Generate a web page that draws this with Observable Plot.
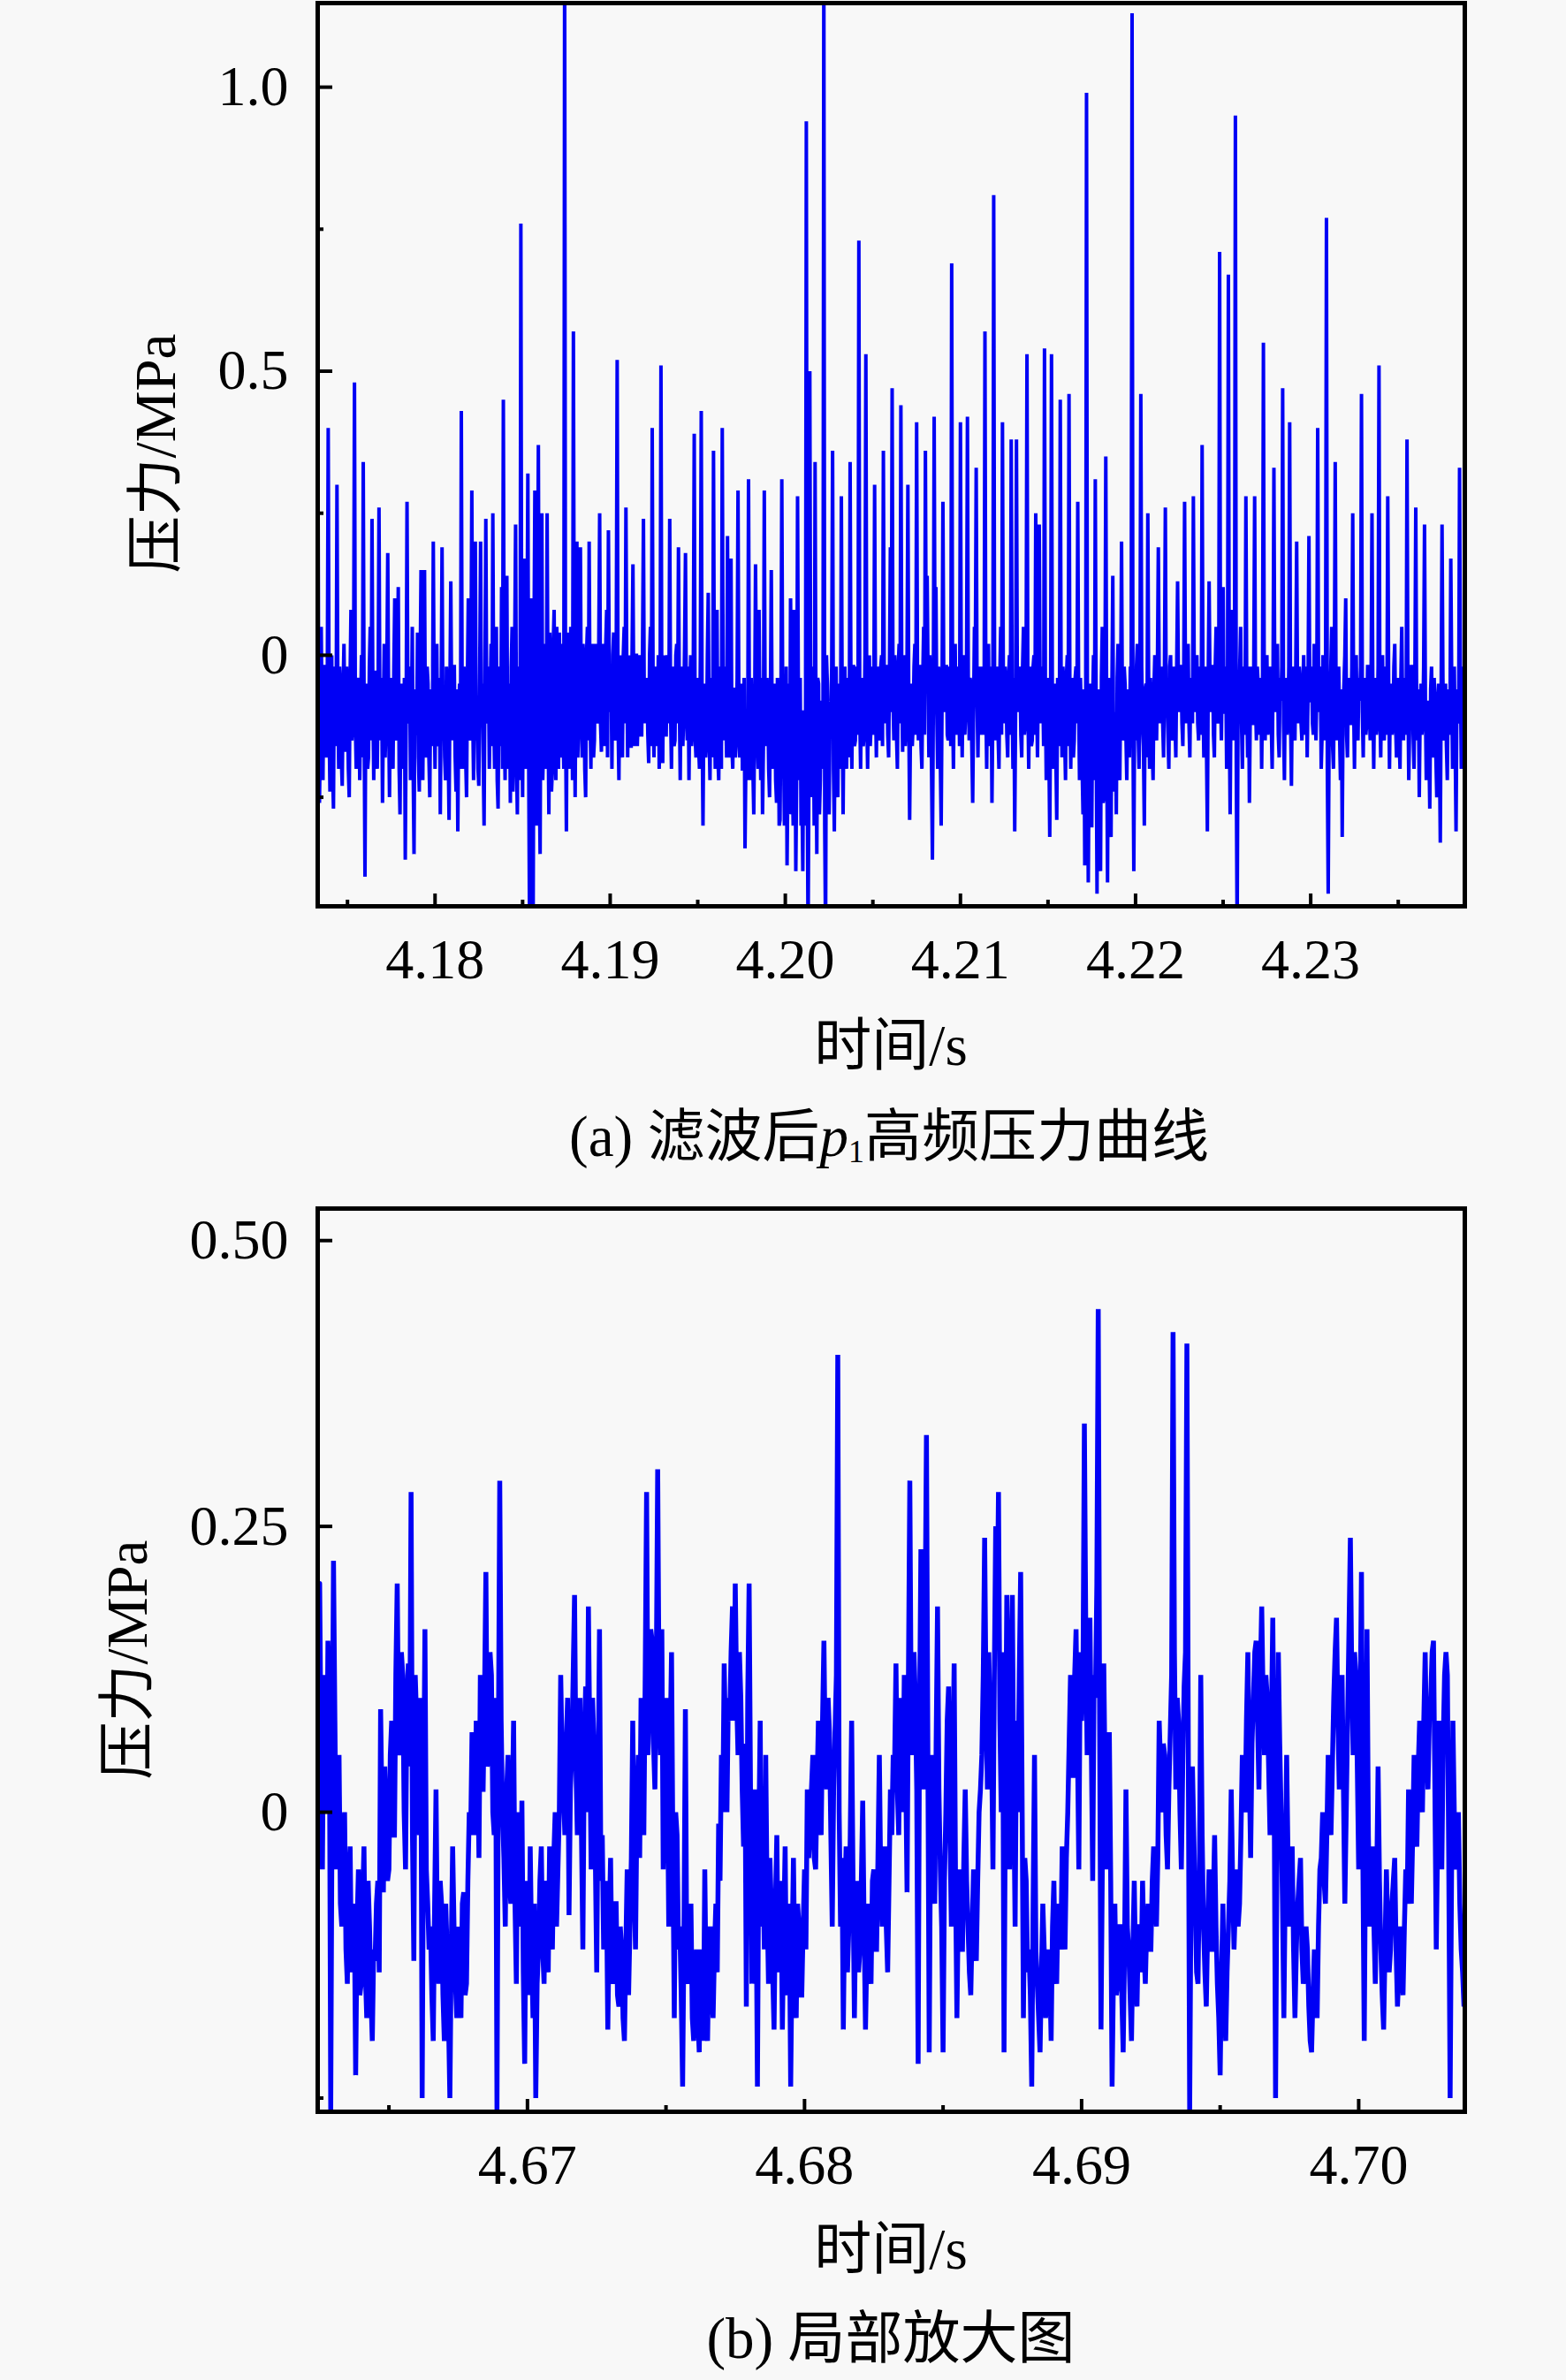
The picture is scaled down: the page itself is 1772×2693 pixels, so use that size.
<!DOCTYPE html>
<html>
<head>
<meta charset="utf-8">
<script src="https://cdn.jsdelivr.net/npm/d3@7"></script>
<script src="https://cdn.jsdelivr.net/npm/@observablehq/plot@0.6"></script>
<style>
  html, body { margin: 0; padding: 0; background: #f8f8f8; }
  #wrap { position: relative; width: 1772px; height: 2693px; font-family: "Liberation Serif", "Noto Sans CJK SC", serif; color: #000; }
  .lbl { position: absolute; white-space: nowrap; line-height: 1; font-size: 65px; transform: translate(-50%, -50%); }
  .ylbl { position: absolute; white-space: nowrap; line-height: 1; font-size: 65px; transform: translate(-50%, -50%) rotate(-90deg); }
  .pl { position: absolute; left: 0; }
</style>
</head>
<body>
<div id="wrap">
  <div id="pa" class="pl" style="top:0px"></div>
  <div id="pb" class="pl" style="top:1340px"></div>
  <div class="ylbl" style="left:176px; top:513px;">压力/MPa</div>
  <div class="lbl" style="left:1008px; top:1183px;">时间/s</div>
  <div class="lbl" style="left:1006px; top:1288px;">(a) 滤波后<i>p</i><sub style="font-size:0.55em; vertical-align:-0.2em;">1</sub>高频压力曲线</div>
  <div class="ylbl" style="left:144px; top:1878px;">压力/MPa</div>
  <div class="lbl" style="left:1008px; top:2545px;">时间/s</div>
  <div class="lbl" style="left:1008px; top:2646px;">(b) 局部放大图</div>
</div>
<script>
// ---------- Panel (a): filtered p1 high-frequency pressure; samples every 0.05 ms from 4.1733 s ----------
// pa*: samples at 4.1733 + i*0.1 ms ; ma*: samples half-way between them
const startA = 4.1733, stepA = 0.0001;
const pa1 = [0.55,-0.26,0.05,-0.22,-0.02,-0.18,0.40,-0.24,0.0,-0.27,-0.05,0.30,-0.2,-0.06,-0.23,0.02,-0.17,-0.09,-0.25,0.08,
 -0.12,0.48,-0.2,-0.05,-0.22,0.0,0.34,-0.39,-0.08,-0.18,0.05,0.24,-0.22,-0.03,-0.2,0.26,-0.15,-0.26,0.02,-0.12,
 0.18,-0.25,-0.08,-0.2,0.1,-0.15,0.12,-0.28,-0.05,-0.2,-0.36,0.27,-0.12,-0.22,0.05,-0.35,-0.1,0.04,-0.24,0.15,
 -0.22,0.15,-0.18,-0.05,-0.25,-0.1,0.2,-0.2,0.02,-0.14,-0.28,0.19,-0.08,-0.22,-0.05,-0.29,0.13,-0.15,-0.02,-0.24,
 -0.31,-0.05,0.43,-0.2,-0.08,-0.25,0.1,-0.15,0.29,-0.22,0.2,-0.1,-0.23,0.2,-0.05,-0.3,0.24,-0.12,-0.2,0.02];
const pa2 = [0.25,-0.2,0.05,-0.27,-0.02,0.12,0.45,-0.22,0.14,-0.08,-0.26,0.05,-0.15,0.23,-0.28,-0.02,0.76,-0.25,0.17,-0.1,
 0.32,-0.5,0.1,-0.48,0.29,-0.3,0.37,-0.35,0.25,-0.15,0.0,0.25,-0.28,-0.05,-0.2,0.08,-0.22,-0.05,0.04,-0.18,
 -0.1,1.25,-0.31,0.04,-0.2,-0.05,0.57,-0.25,0.2,-0.12,0.19,-0.18,-0.02,-0.25,0.05,0.2,-0.2,-0.08,-0.15,0.0,
 -0.1,0.25,-0.17,0.02,-0.12,0.08,0.22,-0.1,-0.2,0.04,-0.15,0.52,-0.22,-0.02,-0.18,0.05,0.26,-0.18,-0.08,-0.16,
 0.16,-0.16,0.0,-0.1,-0.05,-0.14,0.24,-0.08,-0.04,-0.19,0.05,0.4,-0.18,-0.03,-0.12,-0.2,0.51,-0.19,-0.06,-0.14];
const pa3 = [-0.04,0.24,-0.2,-0.05,-0.15,0.02,0.19,-0.22,-0.08,-0.1,0.18,-0.15,-0.22,0.0,-0.12,0.39,-0.18,-0.05,-0.2,0.43,
 -0.3,-0.05,-0.15,0.11,-0.22,-0.08,0.36,-0.2,0.08,-0.22,-0.02,0.4,-0.15,-0.1,0.21,-0.18,0.17,-0.2,-0.06,-0.15,
 0.29,-0.18,-0.05,-0.2,-0.34,-0.1,0.31,-0.22,-0.12,-0.28,0.16,-0.15,0.08,-0.22,-0.28,0.29,-0.16,-0.08,-0.25,0.15,
 -0.2,-0.05,-0.26,-0.1,-0.29,0.31,-0.15,-0.25,-0.37,-0.05,0.1,-0.2,0.08,-0.38,0.28,-0.22,-0.3,-0.38,-0.1,0.94,
 -0.5,0.5,-0.25,-0.1,0.34,-0.35,-0.05,-0.22,-0.1,1.25,-0.5,-0.05,-0.28,-0.1,0.36,-0.31,-0.02,-0.25,-0.12,0.28];
const pa4 = [-0.28,-0.02,-0.2,-0.08,0.34,-0.2,-0.02,-0.15,-0.08,0.73,-0.2,-0.05,-0.14,0.53,-0.2,0.0,-0.12,-0.05,0.3,-0.18,
 -0.05,-0.15,0.0,0.36,-0.12,-0.02,-0.18,0.19,0.47,-0.15,-0.05,-0.2,0.02,0.44,-0.17,-0.05,-0.12,0.3,-0.29,-0.05,
 -0.12,0.02,0.41,-0.15,-0.02,-0.2,0.05,0.36,0.14,-0.18,-0.05,-0.36,0.42,0.12,-0.2,-0.05,-0.3,0.27,-0.1,-0.02,
 -0.15,-0.05,0.69,-0.2,0.02,-0.12,-0.05,0.41,-0.18,0.0,-0.1,0.42,-0.15,-0.05,-0.26,0.05,0.33,-0.18,-0.02,-0.12,
 -0.05,0.57,-0.2,0.02,-0.12,-0.26,0.81,-0.15,-0.02,-0.2,0.05,0.41,-0.12,-0.05,-0.18,0.0,0.38,-0.2,-0.31,0.38];
const pa5 = [-0.1,-0.02,-0.18,0.05,-0.12,0.53,-0.2,-0.05,-0.15,0.0,0.25,-0.18,0.23,-0.12,-0.05,0.54,-0.22,-0.08,-0.32,0.53,
 -0.2,-0.05,-0.29,-0.1,0.45,-0.18,-0.05,-0.22,0.0,0.46,-0.2,-0.1,-0.15,-0.02,0.27,-0.22,-0.1,-0.28,-0.37,0.99,
 -0.4,-0.05,-0.3,0.0,0.31,-0.42,-0.1,-0.38,0.05,-0.25,0.35,-0.4,-0.08,-0.32,0.14,-0.2,-0.28,0.02,-0.22,0.2,
 -0.15,-0.05,-0.22,-0.1,-0.02,1.13,-0.38,-0.15,0.02,-0.2,0.46,-0.12,-0.3,-0.05,0.25,-0.2,-0.1,-0.22,0.0,-0.15,
 0.19,-0.12,-0.02,-0.18,0.26,-0.08,-0.2,0.0,-0.15,-0.05,-0.18,0.13,-0.1,-0.02,-0.16,0.27,-0.12,0.02,-0.18,-0.05];
const pa6 = [0.28,-0.1,0.0,-0.15,-0.05,0.37,-0.18,-0.05,-0.31,0.13,-0.1,-0.02,-0.18,0.05,-0.12,0.71,-0.15,0.12,-0.1,-0.2,
 0.67,-0.28,0.08,-0.15,0.95,-0.5,-0.1,0.05,-0.2,-0.05,0.28,-0.18,-0.26,-0.02,-0.12,0.28,-0.15,-0.05,-0.1,-0.2,
 0.55,-0.15,0.0,-0.12,-0.05,-0.2,0.33,-0.1,0.02,-0.18,-0.08,0.47,-0.22,-0.05,-0.12,0.41,-0.23,-0.02,-0.15,0.2,
 -0.12,-0.05,-0.15,0.0,-0.1,-0.18,0.21,-0.08,-0.12,0.02,-0.15,0.4,-0.1,-0.2,0.0,-0.15,0.77,-0.42,-0.1,0.05,
 -0.2,0.34,-0.15,-0.02,-0.22,-0.32,-0.05,0.1,-0.18,-0.05,-0.12,0.25,-0.2,0.0,-0.15,-0.08,0.46,-0.18,-0.05,-0.12];
const pa7 = [-0.02,-0.15,0.25,-0.2,-0.05,-0.12,0.51,-0.18,0.0,-0.15,-0.1,0.28,-0.2,-0.05,-0.12,0.02,-0.18,-0.08,-0.2,0.05,
 -0.15,-0.05,0.38,-0.22,-0.1,-0.02,-0.2,0.26,-0.15,-0.25,-0.05,-0.12,0.23,-0.22,-0.08,-0.27,-0.02,-0.18,-0.1,-0.25,
 -0.05,-0.33,0.23,-0.15,-0.05,-0.22,-0.1,0.17,-0.2,-0.02,-0.31,-0.1,0.33,-0.2,-0.05,-0.12];

const ma1 = [-0.05,-0.15,-0.12,-0.02,-0.14,-0.04,-0.12,-0.1,-0.2,-0.02,-0.16,-0.08,-0.02,-0.18,-0.06,-0.12,-0.02,-0.2,-0.04,-0.15,
 -0.02,-0.12,-0.16,-0.04,-0.1,-0.18,-0.1,-0.05,-0.2,-0.02,-0.15,-0.08,-0.03,-0.16,-0.06,-0.1,-0.04,-0.1,-0.18,-0.02,
 -0.1,-0.04,-0.18,-0.02,-0.12,-0.04,-0.2,-0.06,-0.16,-0.04,-0.12,-0.1,-0.02,-0.14,-0.2,-0.06,-0.14,-0.18,-0.02,-0.1,
 -0.04,-0.14,-0.02,-0.18,-0.06,-0.16,-0.08,-0.02,-0.16,-0.04,-0.08,-0.12,-0.18,-0.02,-0.16,-0.06,-0.1,-0.02,-0.18,-0.06,
 -0.1,-0.2,-0.12,-0.02,-0.18,-0.04,-0.12,-0.02,-0.1,-0.04,-0.15,-0.2,-0.04,-0.12,-0.18,-0.04,-0.1,-0.02,-0.08,-0.16];
const ma2 = [-0.1,-0.02,-0.22,-0.05,-0.16,-0.2,-0.1,0.0,-0.2,-0.05,-0.02,-0.24,0.02,-0.18,-0.06,-0.22,-0.1,0.04,-0.2,0.02,
 -0.2,0.05,-0.3,0.02,-0.12,0.05,-0.2,0.08,-0.22,0.02,-0.2,-0.1,0.04,-0.24,0.02,-0.15,0.05,-0.2,-0.1,0.02,
 -0.2,-0.1,0.02,-0.18,0.05,-0.22,-0.08,0.0,-0.18,0.02,-0.1,0.02,-0.2,0.0,-0.15,-0.1,0.02,-0.18,0.02,-0.12,
 0.02,-0.12,-0.02,-0.16,0.02,-0.18,-0.05,-0.02,0.0,-0.14,0.02,-0.12,0.0,-0.16,0.0,-0.12,-0.04,0.0,-0.16,0.0,
 -0.1,0.0,-0.16,0.0,-0.14,0.02,-0.12,-0.1,-0.14,0.0,-0.16,-0.06,-0.02,-0.16,0.0,-0.1,-0.12,0.0,-0.14,0.0];
const ma3 = [-0.12,-0.1,-0.02,-0.16,0.0,-0.12,-0.08,-0.02,-0.16,0.02,-0.1,-0.02,-0.06,-0.16,0.0,-0.14,-0.04,-0.16,0.0,-0.12,
 -0.08,-0.18,0.0,-0.14,-0.04,-0.18,-0.08,-0.02,-0.18,-0.04,-0.2,-0.06,-0.02,-0.18,-0.1,-0.02,-0.16,-0.06,-0.18,-0.04,
 -0.12,-0.06,-0.2,-0.04,-0.18,-0.22,-0.12,-0.04,-0.2,-0.1,-0.06,-0.2,-0.12,-0.04,-0.16,-0.12,-0.04,-0.2,-0.08,-0.14,
 -0.08,-0.22,-0.04,-0.3,-0.1,-0.08,-0.3,-0.02,-0.2,-0.28,-0.08,-0.3,-0.06,-0.2,-0.12,-0.04,-0.24,-0.1,-0.3,-0.2,
 -0.2,-0.14,-0.02,-0.3,-0.12,-0.04,-0.28,-0.08,-0.2,-0.3,0.0,-0.2,-0.12,-0.02,-0.2,-0.06,-0.18,-0.05,-0.2,-0.1];
const ma4 = [-0.08,-0.16,-0.04,-0.18,-0.08,-0.02,-0.16,-0.02,-0.14,-0.1,-0.04,-0.16,0.0,-0.1,-0.06,-0.16,-0.02,-0.14,-0.08,-0.02,
 -0.14,-0.02,-0.16,-0.06,-0.02,-0.14,-0.02,-0.1,-0.08,0.0,-0.14,-0.02,-0.12,-0.06,0.0,-0.16,-0.02,-0.1,-0.12,-0.16,
 -0.02,-0.14,-0.06,-0.02,-0.16,-0.04,-0.14,-0.06,-0.04,0.0,-0.2,-0.1,-0.04,-0.1,-0.02,-0.18,-0.08,-0.06,-0.02,-0.14,
 -0.02,-0.16,-0.08,-0.04,-0.14,-0.02,-0.16,-0.06,-0.04,-0.14,-0.02,-0.06,-0.04,-0.16,-0.1,-0.02,-0.08,-0.06,-0.14,-0.02,
 -0.14,-0.08,-0.02,-0.16,-0.02,-0.1,-0.06,-0.04,-0.14,-0.04,-0.14,-0.06,-0.02,-0.14,-0.04,-0.14,-0.06,-0.04,-0.1,-0.08];
const ma5 = [-0.04,-0.14,-0.02,-0.14,-0.04,-0.08,-0.02,-0.16,-0.02,-0.14,-0.06,-0.02,-0.08,-0.02,-0.16,-0.06,-0.04,-0.16,-0.06,-0.1,
 -0.08,-0.18,-0.04,-0.16,-0.06,-0.02,-0.14,-0.04,-0.16,-0.08,-0.04,-0.18,-0.04,-0.12,-0.08,-0.04,-0.2,-0.06,-0.2,-0.12,
 -0.16,-0.3,-0.08,-0.22,-0.12,-0.06,-0.3,-0.04,-0.26,-0.08,-0.12,-0.04,-0.28,-0.06,-0.24,-0.1,-0.04,-0.2,-0.06,-0.12,
 -0.02,-0.14,-0.06,-0.18,-0.04,-0.12,-0.06,-0.02,-0.14,-0.06,-0.02,-0.16,-0.06,-0.18,-0.08,-0.04,-0.16,-0.06,-0.12,-0.02,
 -0.04,-0.06,-0.12,-0.02,-0.1,-0.14,-0.02,-0.12,-0.02,-0.12,-0.02,-0.06,-0.02,-0.12,-0.04,-0.06,-0.02,-0.12,-0.04,-0.12];
const ma6 = [-0.04,-0.02,-0.12,-0.02,-0.14,-0.08,-0.02,-0.16,-0.04,-0.06,-0.02,-0.14,-0.02,-0.1,-0.04,-0.06,-0.02,-0.1,-0.02,-0.08,
 -0.1,-0.06,-0.06,-0.02,-0.18,-0.1,-0.02,-0.12,-0.02,-0.14,-0.08,-0.02,-0.1,-0.12,-0.02,-0.08,-0.02,-0.14,-0.04,-0.06,
 -0.1,-0.02,-0.14,-0.02,-0.12,-0.04,-0.08,-0.02,-0.14,-0.04,-0.02,-0.12,-0.04,-0.14,-0.02,-0.1,-0.06,-0.12,-0.02,-0.08,
 -0.02,-0.12,-0.06,-0.14,-0.02,-0.06,-0.08,-0.02,-0.14,-0.04,-0.06,-0.08,-0.02,-0.14,-0.06,-0.02,-0.2,-0.14,-0.02,-0.16,
 -0.04,-0.1,-0.06,-0.14,-0.06,-0.1,0.0,-0.14,-0.04,-0.12,-0.02,-0.08,-0.04,-0.12,-0.04,-0.02,-0.1,-0.04,-0.14,-0.02];
const ma7 = [-0.1,-0.04,-0.08,-0.04,-0.14,-0.02,-0.1,-0.04,-0.12,-0.02,-0.14,-0.04,-0.06,-0.14,-0.02,-0.12,-0.04,-0.14,-0.04,-0.1,
 -0.04,-0.14,-0.06,-0.12,-0.02,-0.14,-0.04,-0.1,-0.06,-0.1,-0.14,-0.02,-0.08,-0.12,-0.16,-0.06,-0.12,-0.04,-0.18,-0.08,
 -0.16,-0.06,-0.04,-0.12,-0.16,-0.06,-0.14,-0.04,-0.1,-0.16,-0.06,-0.12,-0.04,-0.14,-0.02,-0.1];

// ---------- Panel (b): local enlargement; samples every 0.05 ms from 4.6625 s ----------
const startB = 4.6625, stepB = 0.0001;
const pb1 = [0.2,-0.05,0.08,0.15,-0.26,0.22,-0.05,0.05,-0.1,0.0,-0.15,-0.03,-0.12,-0.23,-0.05,-0.15,-0.03,-0.18,-0.1,-0.2,
 -0.13,-0.06,0.09,-0.07,0.0,-0.05,0.08,-0.02,0.2,0.05,0.12,-0.05,0.13,0.28,-0.13,0.08,-0.02,-0.25,0.16,-0.08,
 -0.1,-0.2,0.02,-0.15,-0.08,-0.2,-0.12,-0.25,-0.03,-0.15,-0.1,-0.18,-0.07,-0.15,0.0,0.07,-0.02,0.05,0.12,0.02,
 0.21,0.05,0.12,-0.02,-0.26,0.29,0.0,-0.1,0.05,-0.08,0.08,-0.15,-0.05,0.01,-0.22,-0.1,-0.03,-0.18,-0.25,-0.12,
 -0.03,-0.15,-0.07,-0.03,-0.12,0.0,-0.05,0.12,0.02,0.06,-0.09,0.05,0.19,-0.02,0.1,-0.12,0.11,0.18,-0.05,0.06];
const pb2 = [-0.14,0.16,-0.02,-0.1,-0.19,-0.04,-0.15,-0.08,-0.17,-0.12,-0.2,-0.05,-0.1,0.08,-0.12,0.05,0.1,-0.02,0.28,0.1,
 0.15,0.02,0.3,0.05,-0.05,0.1,-0.1,0.14,-0.18,-0.02,-0.1,-0.24,0.09,-0.15,-0.08,-0.2,-0.12,-0.21,-0.15,-0.05,
 -0.2,-0.1,-0.18,-0.08,-0.01,0.05,0.13,0.0,0.08,0.18,0.2,0.05,0.1,-0.03,-0.17,0.2,-0.15,0.02,-0.24,0.08,
 -0.05,0.05,-0.15,-0.08,-0.19,-0.02,-0.12,-0.19,-0.03,-0.15,-0.24,-0.04,-0.18,-0.1,-0.16,-0.05,0.02,-0.02,0.05,-0.05,
 0.08,-0.02,0.15,0.02,0.07,-0.1,0.07,0.4,-0.1,-0.19,-0.03,-0.1,0.08,-0.18,-0.06,-0.12,0.01,-0.19,-0.08,-0.15];
const pb3 = [-0.05,-0.12,0.05,-0.1,-0.03,-0.14,0.02,0.05,0.13,-0.02,0.08,0.12,-0.07,0.29,0.05,0.1,-0.22,0.23,0.02,0.33,
 -0.21,0.05,-0.08,0.18,-0.05,-0.21,0.0,0.11,-0.1,0.13,-0.18,-0.05,-0.12,0.02,-0.1,-0.16,-0.05,-0.13,0.0,0.05,
 0.24,0.02,0.08,-0.05,0.25,0.28,0.0,-0.21,0.19,-0.05,0.19,-0.1,0.0,0.21,-0.18,-0.06,-0.12,-0.24,0.05,-0.15,
 -0.21,-0.08,-0.18,-0.12,-0.2,-0.06,-0.15,-0.1,-0.03,-0.12,0.0,0.12,0.03,0.16,-0.05,0.08,0.34,0.05,0.17,-0.06,
 0.1,0.44,-0.19,0.13,-0.05,0.07,-0.24,-0.08,-0.15,-0.1,-0.21,0.02,-0.12,-0.2,-0.06,-0.17,-0.1,-0.06,-0.15,-0.08];
const pb4 = [-0.12,-0.03,-0.1,0.08,0.0,0.05,-0.05,0.07,0.42,0.02,0.08,-0.05,0.11,0.41,-0.26,0.04,-0.08,-0.15,0.12,-0.1,
 -0.17,-0.05,-0.12,-0.02,-0.15,-0.23,-0.08,-0.2,-0.1,0.02,-0.12,-0.05,-0.08,0.05,0.0,0.14,-0.04,0.1,0.15,0.02,
 0.18,0.05,0.1,-0.02,0.17,-0.25,0.14,0.0,-0.18,0.05,-0.1,-0.03,-0.18,-0.08,-0.04,-0.15,-0.1,-0.17,-0.21,-0.12,
 -0.18,-0.05,0.0,-0.08,0.05,-0.02,0.1,0.17,0.02,0.12,-0.08,0.08,0.24,0.05,0.12,-0.05,0.21,-0.2,0.16,-0.1,
 -0.03,-0.15,0.04,-0.12,-0.19,-0.05,-0.14,-0.08,-0.04,-0.17,-0.1,-0.16,-0.05,0.02,-0.08,0.05,-0.03,0.08,0.0,0.14,
 0.02,0.1,0.15,-0.12,0.08,-0.05,0.12,0.12,-0.25,0.08,-0.05,0.0,-0.12,-0.17];

const mb1 = [0.05,0.12,0.0,0.1,0.02,0.08,0.02,-0.08,-0.02,-0.12,-0.06,-0.14,-0.08,-0.1,-0.16,-0.08,-0.14,-0.06,-0.16,-0.12,
 -0.08,-0.14,0.0,0.04,-0.06,0.05,-0.02,0.12,0.06,0.14,0.0,0.1,0.04,-0.02,0.12,0.02,0.1,0.0,-0.05,-0.12,
 -0.16,-0.08,-0.12,-0.06,-0.16,-0.08,-0.18,-0.12,-0.1,-0.18,-0.14,-0.08,-0.16,-0.06,-0.02,0.0,0.08,-0.04,0.02,0.1,
 0.04,0.14,0.0,0.1,0.05,0.08,-0.04,0.02,-0.06,0.0,-0.08,0.0,-0.1,-0.14,-0.06,-0.16,-0.12,-0.08,-0.15,-0.06,
 -0.12,-0.06,-0.14,-0.1,-0.04,-0.1,0.0,0.05,-0.02,0.1,0.02,0.12,0.04,0.08,-0.02,0.05,0.0,0.06,0.1,-0.04];
const mb2 = [0.02,-0.06,-0.12,-0.06,-0.1,-0.14,-0.08,-0.16,-0.1,-0.18,-0.12,-0.16,-0.04,-0.06,0.0,-0.04,0.04,0.12,0.05,0.16,
 0.06,0.12,0.1,0.16,0.02,0.04,0.06,-0.04,0.0,-0.12,-0.16,-0.1,-0.14,-0.12,-0.18,-0.14,-0.18,-0.12,-0.2,-0.16,
 -0.12,-0.16,-0.12,-0.14,-0.06,0.0,0.06,0.1,0.14,0.08,0.1,0.14,0.02,0.06,0.1,0.02,0.0,-0.06,-0.02,-0.1,
 -0.12,-0.08,-0.04,-0.14,-0.08,-0.14,-0.06,-0.1,-0.16,-0.08,-0.12,-0.14,-0.08,-0.16,-0.1,-0.12,-0.04,0.02,-0.04,0.02,
 0.0,0.08,0.04,0.1,-0.02,0.02,0.12,0.0,-0.04,-0.08,-0.14,-0.02,-0.06,-0.08,-0.14,-0.06,-0.1,-0.12,-0.14,-0.06];
const mb3 = [-0.12,-0.04,-0.06,-0.08,-0.1,-0.06,-0.02,0.04,0.02,0.1,0.0,0.04,0.12,0.08,0.14,0.02,0.08,0.1,0.16,0.06,
 0.0,-0.04,0.06,0.02,-0.1,-0.06,0.08,-0.02,0.04,-0.06,-0.08,-0.12,-0.04,-0.06,-0.14,-0.1,-0.12,-0.06,0.02,0.12,
 0.1,0.14,0.06,0.12,0.16,0.08,0.14,0.02,0.06,0.12,0.02,0.08,0.12,0.02,-0.04,-0.14,-0.16,-0.08,-0.12,-0.18,
 -0.14,-0.12,-0.16,-0.14,-0.1,-0.14,-0.08,-0.12,-0.08,-0.04,0.06,0.08,0.12,0.06,0.14,0.12,0.16,0.1,0.06,0.12,
 0.2,0.08,-0.04,0.02,0.0,-0.06,-0.14,-0.16,-0.1,-0.16,-0.12,-0.1,-0.16,-0.12,-0.14,-0.1,-0.14,-0.12,-0.1,-0.12];
const mb4 = [-0.06,-0.08,-0.04,0.04,0.06,-0.02,0.02,0.12,0.14,0.1,0.0,0.04,0.14,0.06,-0.06,-0.02,-0.14,-0.06,-0.02,-0.14,
 -0.1,-0.12,-0.08,-0.1,-0.18,-0.14,-0.16,-0.14,-0.06,-0.06,-0.08,-0.1,-0.02,0.02,0.08,0.04,0.06,0.14,0.08,0.12,
 0.1,0.12,0.04,0.08,0.02,-0.04,0.06,-0.08,-0.06,-0.04,-0.08,-0.12,-0.12,-0.06,-0.12,-0.14,-0.12,-0.2,-0.16,-0.16,
 -0.1,-0.04,-0.06,-0.02,0.02,0.04,0.14,0.08,0.1,0.02,0.0,0.16,0.12,0.14,0.04,0.08,-0.04,-0.02,-0.02,-0.08,
 -0.1,-0.06,-0.06,-0.16,-0.12,-0.1,-0.12,-0.06,-0.12,-0.14,-0.12,-0.1,-0.08,-0.04,-0.02,-0.02,0.04,0.02,0.08,0.06,
 0.08,0.14,0.02,-0.02,0.02,0.06,0.14,-0.04,-0.06,0.0,-0.04,-0.08,-0.14,-0.1];

// ---------- axes ----------
const xDomA = [4.1733, 4.2388], yDomA = [-0.442, 1.148];
const xMajorA = [4.18, 4.19, 4.20, 4.21, 4.22, 4.23];
const xMinorA = [4.175, 4.185, 4.195, 4.205, 4.215, 4.225, 4.235];
const yMajorA = [0, 0.5, 1.0];
const yMinorA = [-0.25, 0.25, 0.75];

const xDomB = [4.66243, 4.70383], yDomB = [-0.262, 0.528];
const xMajorB = [4.67, 4.68, 4.69, 4.70];
const xMinorB = [4.665, 4.675, 4.685, 4.695];
const yMajorB = [0, 0.25, 0.5];
const yMinorB = [-0.25];

function interleave(main, mid, start, step) {
  const out = [];
  main.forEach((v, i) => {
    out.push({t: start + i * step, v});
    if (i < mid.length) out.push({t: start + (i + 0.5) * step, v: mid[i]});
  });
  return out;
}
const seriesA = interleave([].concat(pa1, pa2, pa3, pa4, pa5, pa6, pa7), [].concat(ma1, ma2, ma3, ma4, ma5, ma6, ma7), startA, stepA);
const seriesB = interleave([].concat(pb1, pb2, pb3, pb4), [].concat(mb1, mb2, mb3, mb4), startB, stepB);

const W = 1772, ML = 359, MR = 115;
const plotW = W - ML - MR;

function panel({series, xDom, yDom, xMajor, xMinor, yMajor, yMinor, marginTop, frameH, yFmt, lineW}) {
  const kx = (xDom[1] - xDom[0]) / plotW;
  const ky = (yDom[1] - yDom[0]) / frameH;
  const marginBottom = 110;
  return Plot.plot({
    width: W,
    height: marginTop + frameH + marginBottom,
    marginLeft: ML, marginRight: MR, marginTop, marginBottom,
    x: {domain: xDom, axis: null, label: null},
    y: {domain: yDom, axis: null, label: null},
    style: {background: "transparent", fontFamily: "'Liberation Serif', serif", fontSize: "64px", color: "#000", overflow: "visible"},
    marks: [
      Plot.line(series, {x: "t", y: "v", stroke: "#0000f5", strokeWidth: lineW, strokeLinejoin: "miter", strokeMiterlimit: 1.5, clip: true}),
      Plot.frame({stroke: "#000", strokeWidth: 5}),
      Plot.ruleY(yMajor, {y: d => d, x1: xDom[0], x2: xDom[0] + 17 * kx, stroke: "#000", strokeWidth: 4}),
      Plot.ruleY(yMinor, {y: d => d, x1: xDom[0], x2: xDom[0] + 7 * kx, stroke: "#000", strokeWidth: 4}),
      Plot.ruleX(xMajor, {x: d => d, y1: yDom[0], y2: yDom[0] + 14 * ky, stroke: "#000", strokeWidth: 4}),
      Plot.ruleX(xMinor, {x: d => d, y1: yDom[0], y2: yDom[0] + 7 * ky, stroke: "#000", strokeWidth: 4}),
      Plot.axisX(xMajor, {tickSize: 0, tickPadding: 36, tickFormat: d => d.toFixed(2), fontSize: 64, label: null}),
      Plot.axisY(yMajor, {tickSize: 0, tickPadding: 33, tickFormat: yFmt, fontSize: 64, label: null})
    ]
  });
}

document.getElementById("pa").append(panel({
  series: seriesA, xDom: xDomA, yDom: yDomA, xMajor: xMajorA, xMinor: xMinorA, yMajor: yMajorA, yMinor: yMinorA,
  marginTop: 3, frameH: 1022, yFmt: d => d === 0 ? "0" : d.toFixed(1), lineW: 4.0
}));
document.getElementById("pb").append(panel({
  series: seriesB, xDom: xDomB, yDom: yDomB, xMajor: xMajorB, xMinor: xMinorB, yMajor: yMajorB, yMinor: yMinorB,
  marginTop: 27, frameH: 1022, yFmt: d => d === 0 ? "0" : d.toFixed(2), lineW: 5.5
}));
</script>
</body>
</html>
